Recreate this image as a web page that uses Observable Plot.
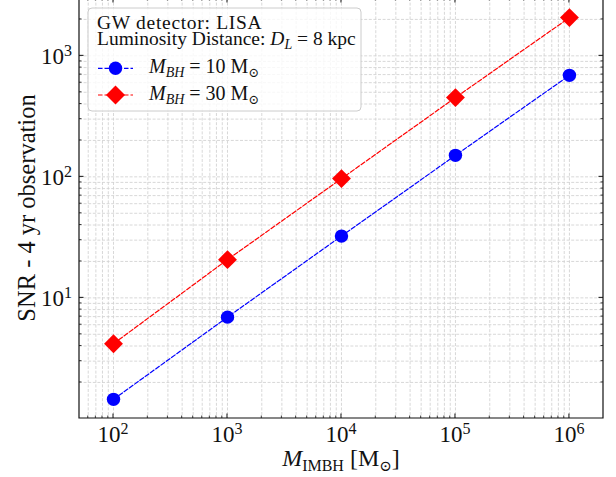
<!DOCTYPE html>
<html><head><meta charset="utf-8">
<script src="https://cdn.jsdelivr.net/npm/d3@7"></script>
<script src="https://cdn.jsdelivr.net/npm/@observablehq/plot@0.6"></script>
<style>body{margin:0;background:#fff} #chart svg{display:block}</style>
</head><body><div id="chart"></div>
<script>
// ---- data ----
const masses = [1e2, 1e3, 1e4, 1e5, 1e6];
const snr10 = [1.45, 6.93, 32.4, 150.6, 690];
const snr30 = [4.18, 20.7, 96.7, 452, 2070];
const xMajor = [1e2, 1e3, 1e4, 1e5, 1e6];
const xExp = ["2", "3", "4", "5", "6"];
const yMajor = [1e1, 1e2, 1e3];
const yExp = ["1", "2", "3"];
const legendHeader = ["GW detector: LISA", "Luminosity Distance: "];
const seriesMass = ["10", "30"];
const seriesColor = ["blue", "red"];

// ---- layout ----
const W = 616, H = 477;
const ML = 79, MR = 13, MT = -2, MB = 59;
const xDomain = [50.3, 1.99e6];
const yDomain = [1.007, 2978];
const FONT = "'Liberation Serif', 'DejaVu Serif', serif";
const LFS = 19.5; // legend font size

const rows10 = masses.map((m, i) => ({m, s: snr10[i]}));
const rows30 = masses.map((m, i) => ({m, s: snr30[i]}));
const xAll = d3.scaleLog().domain(xDomain).ticks();
const yAll = d3.scaleLog().domain(yDomain).ticks();
const isMajor = v => Math.abs(Math.log10(v) - Math.round(Math.log10(v))) < 1e-9;

const gridStyle = {stroke: "#d4d4d4", strokeWidth: 0.9, strokeDasharray: "3,1.6"};

function frameAndTicks(index, {x, y}) {
  const g = d3.create("svg:g").attr("stroke", "#111").attr("fill", "none");
  const x0 = ML, x1 = W - MR, yb = H - MB, yt = MT;
  g.append("path").attr("stroke-width", 1.2)
    .attr("d", `M${x0},${yt}V${yb}H${x1}V${yt}`);
  xAll.forEach(v => {
    const px = x(v), L = isMajor(v) ? 4.5 : 2.5;
    g.append("path").attr("stroke-width", isMajor(v) ? 1 : 0.8)
      .attr("d", `M${px},${yb}v${-L}M${px},${yt}v${L}`);
  });
  yAll.forEach(v => {
    const py = y(v), L = isMajor(v) ? 4.5 : 2.5;
    g.append("path").attr("stroke-width", isMajor(v) ? 1 : 0.8)
      .attr("d", `M${x0},${py}h${L}M${x1},${py}h${-L}`);
  });
  return g.node();
}

function labels(index, {x, y}) {
  const g = d3.create("svg:g").attr("font-family", FONT).attr("fill", "#111");
  xMajor.forEach((v, i) => {
    const t = g.append("text").attr("x", x(v)).attr("y", H - MB + 24)
      .attr("text-anchor", "middle").attr("font-size", 23);
    t.append("tspan").text("10");
    t.append("tspan").attr("font-size", 16).attr("dy", -8.5).text(xExp[i]);
  });
  yMajor.forEach((v, i) => {
    const t = g.append("text").attr("x", ML - 7).attr("y", y(v) + 9)
      .attr("text-anchor", "end").attr("font-size", 23);
    t.append("tspan").text("10");
    t.append("tspan").attr("font-size", 16).attr("dy", -8.5).text(yExp[i]);
  });
  // x title
  const xt = g.append("text").attr("x", (ML + W - MR) / 2).attr("y", H - 11)
    .attr("text-anchor", "middle").attr("font-size", 24);
  xt.append("tspan").attr("font-style", "italic").text("M");
  xt.append("tspan").attr("font-size", 16).attr("dy", 5).text("IMBH");
  xt.append("tspan").attr("dy", -5).text(" [M");
  xt.append("tspan").attr("font-size", 15).attr("dy", 5).text("\u2299");
  xt.append("tspan").attr("dy", -5).text("]");
  // y title
  g.append("text").attr("transform", `translate(35,${(MT + H - MB) / 2}) rotate(-90)`)
    .attr("text-anchor", "middle").attr("font-size", 24.5).text("SNR - 4 yr observation");
  return g.node();
}

function legend() {
  const g = d3.create("svg:g").attr("font-family", FONT).attr("text-anchor", "start");
  g.append("rect").attr("x", 88).attr("y", 8).attr("width", 273).attr("height", 103)
    .attr("rx", 4).attr("fill", "white").attr("fill-opacity", 0.8)
    .attr("stroke", "#cccccc").attr("stroke-width", 1);
  g.append("text").attr("x", 97).attr("y", 29.3).attr("font-size", LFS).attr("fill", "#111")
    .attr("letter-spacing", 0.7).attr("text-anchor", "start").text(legendHeader[0]);
  const l2 = g.append("text").attr("x", 97).attr("y", 45).attr("font-size", LFS)
    .attr("fill", "#111").attr("text-anchor", "start");
  l2.append("tspan").text(legendHeader[1]);
  l2.append("tspan").attr("font-style", "italic").text("D");
  l2.append("tspan").attr("font-style", "italic").attr("font-size", 14).attr("dy", 4).text("L");
  l2.append("tspan").attr("dy", -4).text(" = 8 kpc");
  const ys = [68.3, 95];
  seriesMass.forEach((mv, i) => {
    const cy = ys[i];
    g.append("line").attr("x1", 98).attr("x2", 133).attr("y1", cy).attr("y2", cy)
      .attr("stroke", seriesColor[i]).attr("stroke-width", 1.2).attr("stroke-dasharray", "4.5,2");
    if (i === 0) {
      g.append("circle").attr("cx", 115.5).attr("cy", cy).attr("r", 6.7).attr("fill", seriesColor[i]);
    } else {
      const r = 9.5;
      g.append("path").attr("fill", seriesColor[i])
        .attr("d", `M115.5,${cy - r}L${115.5 + r},${cy}L115.5,${cy + r}L${115.5 - r},${cy}Z`);
    }
    const t = g.append("text").attr("x", 149).attr("y", cy + 4.8).attr("font-size", 20)
      .attr("fill", "#111").attr("text-anchor", "start");
    t.append("tspan").attr("font-style", "italic").text("M");
    t.append("tspan").attr("font-style", "italic").attr("font-size", 14).attr("dy", 4).text("BH");
    t.append("tspan").attr("dy", -4).text(` = ${mv} M`);
    t.append("tspan").attr("font-size", 13).attr("dy", 4).text("\u2299");
  });
  return g.node();
}

const chart = Plot.plot({
  width: W, height: H,
  marginLeft: ML, marginRight: MR, marginTop: MT, marginBottom: MB,
  x: {type: "log", domain: xDomain, axis: null},
  y: {type: "log", domain: yDomain, axis: null},
  style: {background: "white", fontFamily: FONT},
  marks: [
    Plot.ruleX(xAll, {x: d => d, ...gridStyle}),
    Plot.ruleY(yAll, {y: d => d, ...gridStyle}),
    Plot.line(rows10, {x: "m", y: "s", stroke: "blue", strokeWidth: 1.2, strokeDasharray: "4.5,2"}),
    Plot.line(rows30, {x: "m", y: "s", stroke: "red", strokeWidth: 1.2, strokeDasharray: "4.5,2"}),
    Plot.dot(rows10, {x: "m", y: "s", r: 6.7, fill: "blue", symbol: "circle"}),
    Plot.dot(rows30, {x: "m", y: "s", r: 8.5, fill: "red", symbol: "diamond2"}),
    frameAndTicks,
    labels,
    legend
  ]
});
document.getElementById("chart").appendChild(chart);
</script>
</body></html>
